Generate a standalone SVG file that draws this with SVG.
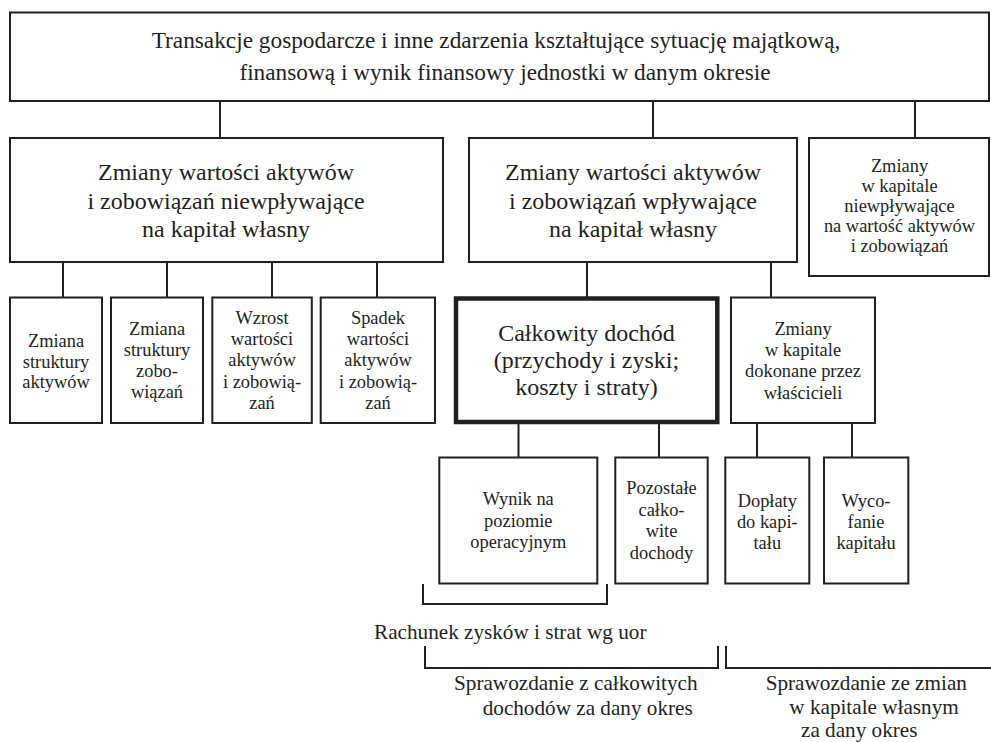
<svg xmlns="http://www.w3.org/2000/svg" width="991" height="742" viewBox="0 0 991 742">
<style>
.box{fill:#fff;stroke:#231f20;stroke-width:2}
.thick{fill:#fff;stroke:#231f20;stroke-width:4.5}
.ln{fill:none;stroke:#231f20;stroke-width:2}
text{font-family:"Liberation Serif","Times New Roman",serif;fill:#231f20}
.c{text-anchor:middle}
.t1{font-size:23.3px}
.t2{font-size:24px}
.t3{font-size:18.4px}
.t4{font-size:21.2px}
</style>
<rect width="991" height="742" fill="#fff"/>
<g id="connectors">
<path class="ln" d="M220,101V138M653,101V138M915,101V138"/>
<path class="ln" d="M63,262V297M167,262V297M272,262V297M377,262V297"/>
<path class="ln" d="M587,262V297M771,262V297"/>
<path class="ln" d="M518.5,423V457M659,423V457M757,423V457M852,423V457"/>
<path class="ln" d="M423,584V604H607V584"/>
<path class="ln" d="M425,646V668H718V646"/>
<path class="ln" d="M726,646V668H991"/>
</g>
<g id="top">
<rect class="box" x="10" y="12.5" width="979" height="88.5"/>
<text class="t1 c" x="496" y="48">Transakcje gospodarcze i inne zdarzenia kształtujące sytuację majątkową,</text>
<text class="t1 c" x="505" y="80">finansową i wynik finansowy jednostki w danym okresie</text>
</g>
<g id="boxA">
<rect class="box" x="10" y="138" width="433" height="124"/>
<text class="t2 c" x="226" y="180">Zmiany wartości aktywów</text>
<text class="t2 c" x="226" y="208.5">i zobowiązań niewpływające</text>
<text class="t2 c" x="226" y="237">na kapitał własny</text>
</g>
<g id="boxB">
<rect class="box" x="469" y="138" width="328" height="124"/>
<text class="t2 c" x="633" y="180">Zmiany wartości aktywów</text>
<text class="t2 c" x="633" y="208.5">i zobowiązań wpływające</text>
<text class="t2 c" x="633" y="237">na kapitał własny</text>
</g>
<g id="boxC">
<rect class="box" x="809" y="138" width="180" height="138"/>
<text class="t3 c" x="899.5" y="172">Zmiany</text>
<text class="t3 c" x="899.5" y="192">w kapitale</text>
<text class="t3 c" x="899.5" y="212">niewpływające</text>
<text class="t3 c" x="899.5" y="232">na wartość aktywów</text>
<text class="t3 c" x="899.5" y="252">i zobowiązań</text>
</g>
<g id="box1">
<rect class="box" x="10" y="297.5" width="92" height="125.5"/>
<text class="t3 c" x="56" y="347">Zmiana</text>
<text class="t3 c" x="56" y="367.5">struktury</text>
<text class="t3 c" x="56" y="388">aktywów</text>
</g>
<g id="box2">
<rect class="box" x="111" y="297.5" width="92" height="125.5"/>
<text class="t3 c" x="157" y="335">Zmiana</text>
<text class="t3 c" x="157" y="356">struktury</text>
<text class="t3 c" x="157" y="377">zobo-</text>
<text class="t3 c" x="157" y="398">wiązań</text>
</g>
<g id="box3">
<rect class="box" x="212.3" y="297.5" width="99.5" height="125.5"/>
<text class="t3 c" x="262" y="323.5">Wzrost</text>
<text class="t3 c" x="262" y="345">wartości</text>
<text class="t3 c" x="262" y="366">aktywów</text>
<text class="t3 c" x="262" y="387.5">i zobowią-</text>
<text class="t3 c" x="262" y="408.5">zań</text>
</g>
<g id="box4">
<rect class="box" x="320.7" y="297.5" width="114.3" height="125.5"/>
<text class="t3 c" x="378" y="323.5">Spadek</text>
<text class="t3 c" x="378" y="345">wartości</text>
<text class="t3 c" x="378" y="366">aktywów</text>
<text class="t3 c" x="378" y="387.5">i zobowią-</text>
<text class="t3 c" x="378" y="408.5">zań</text>
</g>
<g id="total">
<rect class="thick" x="456" y="298.5" width="261.3" height="123.5"/>
<text class="t2 c" x="586.5" y="341">Całkowity dochód</text>
<text class="t2 c" x="586.5" y="368">(przychody i zyski;</text>
<text class="t2 c" x="586.5" y="395">koszty i straty)</text>
</g>
<g id="owners">
<rect class="box" x="731" y="297.5" width="144" height="125.5"/>
<text class="t3 c" x="803" y="335">Zmiany</text>
<text class="t3 c" x="803" y="356">w kapitale</text>
<text class="t3 c" x="803" y="377">dokonane przez</text>
<text class="t3 c" x="803" y="398.5">właścicieli</text>
</g>
<g id="wynik">
<rect class="box" x="439.3" y="457.5" width="158" height="126"/>
<text class="t3 c" x="518.3" y="505">Wynik na</text>
<text class="t3 c" x="518.3" y="526.5">poziomie</text>
<text class="t3 c" x="518.3" y="547.5">operacyjnym</text>
</g>
<g id="pozostale">
<rect class="box" x="615.3" y="457.5" width="92.4" height="126"/>
<text class="t3 c" x="661.5" y="494">Pozostałe</text>
<text class="t3 c" x="661.5" y="515.5">całko-</text>
<text class="t3 c" x="661.5" y="537">wite</text>
<text class="t3 c" x="661.5" y="558.5">dochody</text>
</g>
<g id="doplaty">
<rect class="box" x="725.3" y="457.5" width="84" height="126"/>
<text class="t3 c" x="767.3" y="506.5">Dopłaty</text>
<text class="t3 c" x="767.3" y="527.5">do kapi-</text>
<text class="t3 c" x="767.3" y="548.5">tału</text>
</g>
<g id="wycofanie">
<rect class="box" x="824" y="457.5" width="84.3" height="126"/>
<text class="t3 c" x="866" y="506.5">Wyco-</text>
<text class="t3 c" x="866" y="527.5">fanie</text>
<text class="t3 c" x="866" y="548.5">kapitału</text>
</g>
<g id="labels">
<text class="t4" x="374" y="638.5">Rachunek zysków i strat wg uor</text>
<text class="t4" x="454" y="689.5">Sprawozdanie z całkowitych</text>
<text class="t4" x="482.7" y="715">dochodów za dany okres</text>
<text class="t4" x="765.7" y="689.5">Sprawozdanie ze zmian</text>
<text class="t4" x="789.3" y="714">w kapitale własnym</text>
<text class="t4" x="801" y="736.5">za dany okres</text>
</g>
</svg>
